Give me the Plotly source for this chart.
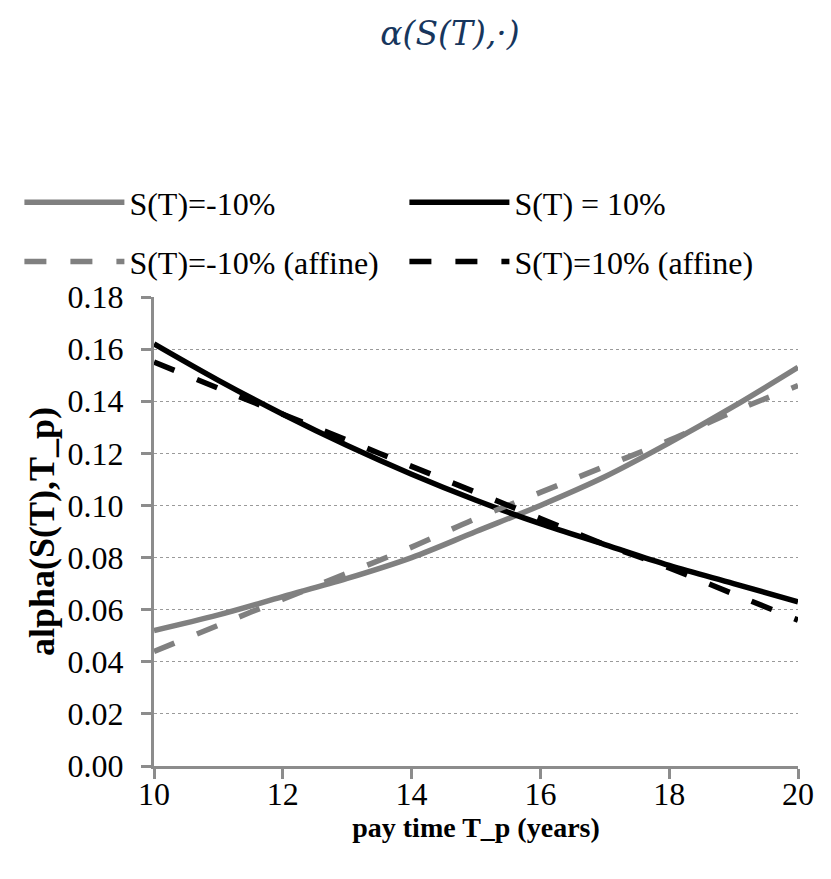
import plotly.graph_objects as go

pay_time = [10, 11, 12, 13, 14, 15, 16, 17, 18, 19, 20]
s_neg = [0.052, 0.058, 0.065, 0.072, 0.080, 0.090, 0.100, 0.111, 0.124, 0.138, 0.153]
s_pos = [0.162, 0.148, 0.135, 0.123, 0.112, 0.102, 0.093, 0.085, 0.077, 0.070, 0.063]
s_neg_affine = [0.044, 0.054, 0.064, 0.074, 0.084, 0.095, 0.105, 0.115, 0.125, 0.136, 0.146]
s_pos_affine = [0.155, 0.145, 0.135, 0.125, 0.115, 0.105, 0.095, 0.085, 0.076, 0.066, 0.056]

series_names = ["S(T)=-10%", "S(T) = 10%", "S(T)=-10% (affine)", "S(T)=10% (affine)"]
x_ticks = [10, 12, 14, 16, 18, 20]
y_ticks = [0.00, 0.02, 0.04, 0.06, 0.08, 0.10, 0.12, 0.14, 0.16, 0.18]

GREY = "#808080"
BLACK = "#000000"
SERIF = "Liberation Serif"
DASH = "22px,24px"
LW = 5.5

fig = go.Figure()
fig.add_trace(go.Scatter(x=pay_time, y=s_neg, name=series_names[0], mode="lines",
                         legend="legend",
                         line=dict(color=GREY, width=LW, shape="spline")))
fig.add_trace(go.Scatter(x=pay_time, y=s_pos, name=series_names[1], mode="lines",
                         legend="legend",
                         line=dict(color=BLACK, width=LW, shape="spline")))
fig.add_trace(go.Scatter(x=pay_time, y=s_neg_affine, name=series_names[2], mode="lines",
                         legend="legend2",
                         line=dict(color=GREY, width=LW, dash=DASH, shape="spline")))
fig.add_trace(go.Scatter(x=pay_time, y=s_pos_affine, name=series_names[3], mode="lines",
                         legend="legend2",
                         line=dict(color=BLACK, width=LW, dash=DASH, shape="spline")))

legend_common = dict(orientation="h", x=-0.209, xanchor="left", yanchor="top",
                     font=dict(family=SERIF, size=32, color="black"),
                     itemwidth=100, entrywidth=270, entrywidthmode="pixels",
                     bgcolor="rgba(0,0,0,0)", traceorder="normal")

# the page body adds an 8px offset, so the figure is 8px smaller and margins shifted
fig.update_layout(
    width=823, height=871,
    margin=dict(l=143, r=33, t=289, b=113),
    paper_bgcolor="white", plot_bgcolor="white",
    font=dict(family=SERIF, size=32, color="black"),
    title=dict(text="<i>α(S(T),·)</i>", x=442 / 823, xref="container", xanchor="center",
               y=1 - 25 / 871, yref="container", yanchor="middle",
               font=dict(family="DejaVu Serif", size=33, color="#17365D")),
    showlegend=True,
    legend=dict(y=1.26, **legend_common),
    legend2=dict(y=1.134, **legend_common),
)

fig.update_xaxes(range=[10, 20], tickvals=x_ticks, ticktext=[str(v) for v in x_ticks],
                 showline=True, linecolor="#8c8c8c", linewidth=3,
                 ticks="outside", ticklen=10, tickwidth=3, tickcolor="#8c8c8c",
                 ticklabelstandoff=-12,
                 showgrid=False, zeroline=False,
                 tickfont=dict(family=SERIF, size=32, color="black"),
                 title=dict(text="<b>pay time T_p (years)</b>", standoff=6,
                            font=dict(family=SERIF, size=28, color="black")))
fig.update_yaxes(range=[0, 0.18], tickvals=y_ticks, ticktext=[f"{v:.2f}" for v in y_ticks],
                 showline=True, linecolor="#8c8c8c", linewidth=3,
                 ticks="outside", ticklen=10, tickwidth=3, tickcolor="#8c8c8c",
                 ticklabelstandoff=11,
                 showgrid=True, gridcolor="#9a9a9a", gridwidth=1, griddash="dot",
                 zeroline=False,
                 tickfont=dict(family=SERIF, size=32, color="black"),
                 title=dict(text="<b>alpha(S(T),T_p)</b>", standoff=2,
                            font=dict(family=SERIF, size=36, color="black")))

fig.write_html("out.html")
